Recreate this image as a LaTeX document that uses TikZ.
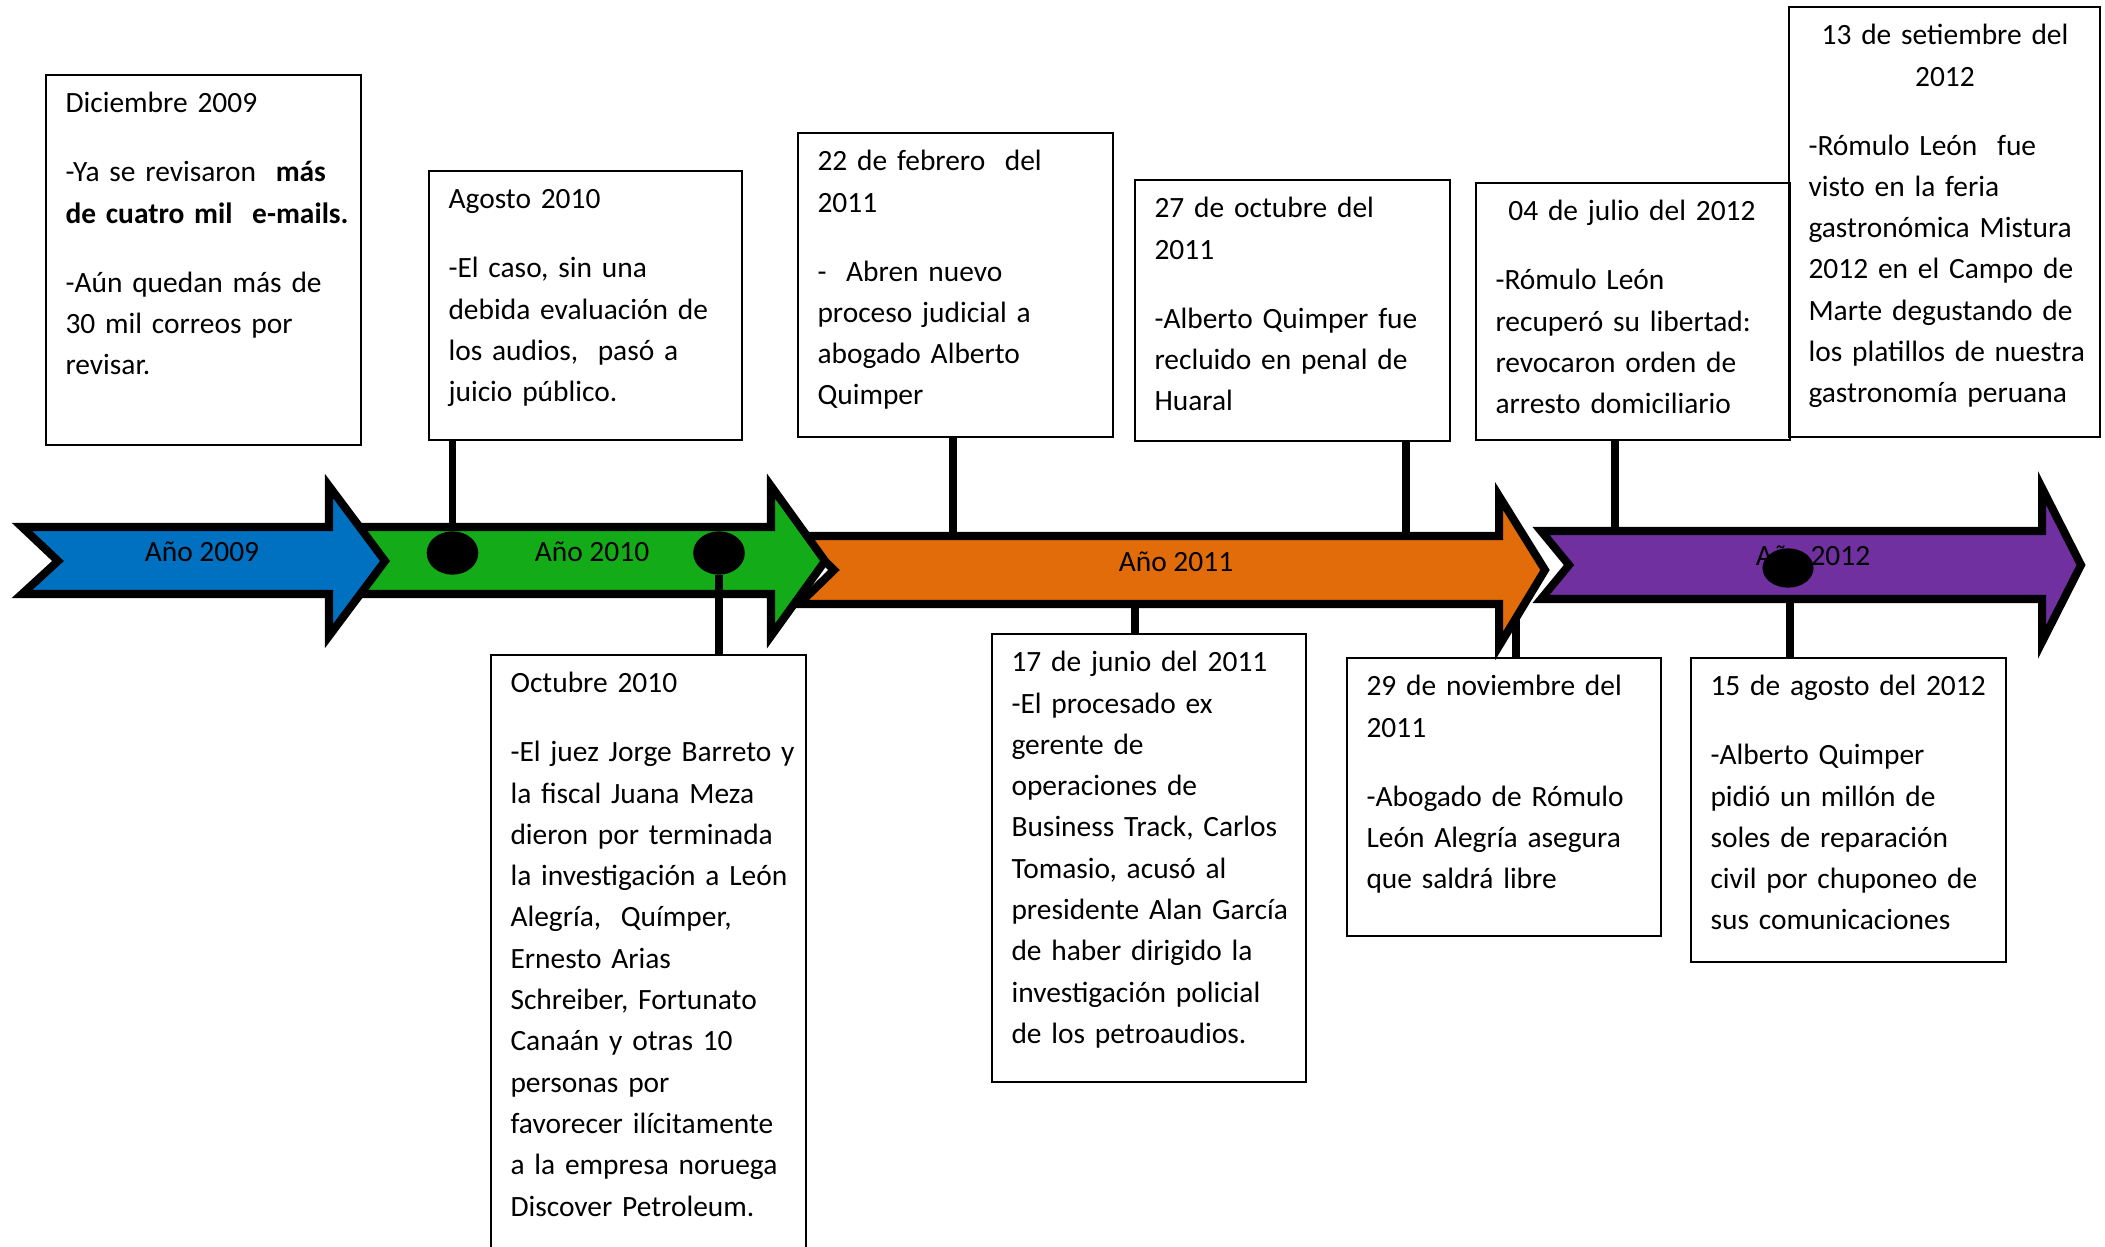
\documentclass[tikz,border=0pt]{standalone}
\usepackage{fontspec}
\setmainfont{Carlito}
\usepackage{tikz}
\usetikzlibrary{fit,shapes.geometric}
\definecolor{azul}{HTML}{0070C0}
\definecolor{verde}{HTML}{13AB17}
\definecolor{naranja}{HTML}{E36C0A}
\definecolor{morado}{HTML}{7030A0}

\begin{document}
\begin{tikzpicture}
[x=0.01314cm,y=-0.01314cm,font=\fontsize{11}{15.44}\selectfont,
 flecha/.style={draw=black,line width=3pt},
 caja/.style={draw=black,line width=0.8pt,inner sep=0pt},
 texto/.style={anchor=north west,align=left,text width=112pt,inner xsep=7.5pt,inner ysep=3.8pt,text height=10.5pt},
 punto/.style={ellipse,fill=black,inner sep=0pt,minimum width=19.3pt,minimum height=16.2pt},
 conector/.style={line width=2.8pt},
 anio/.style={inner sep=0pt}]
\useasboundingbox[fill=white] (0,0) rectangle (2105,1247);

\node[caja,fit={(46,75)(361,445)}] (dic09) {};
\node[texto] (dic09t) at (dic09.north west) {Diciembre 2009\\[10.35pt]
-Ya se revisaron\ \ \textbf{más}\\
\textbf{de cuatro mil\ \ e-mails.}\\[10.35pt]
-Aún quedan más de\\30 mil correos por\\revisar.};

\node[caja,fit={(429,171)(742,440)}] (ago10) {};
\node[texto] (ago10t) at (ago10.north west) {Agosto 2010\\[10.35pt]
-El caso, sin una\\debida evaluación de\\los audios,\ \ pasó a\\juicio público.};

\node[caja,fit={(798,133)(1113,437)}] (feb11) {};
\node[texto] (feb11t) at (feb11.north west) {22 de febrero\ \ del\\2011\\[10.35pt]
-\ \ Abren nuevo\\proceso judicial a\\abogado Alberto\\Quimper};

\node[caja,fit={(1135,180)(1450,441)}] (oct11) {};
\node[texto] (oct11t) at (oct11.north west) {27 de octubre del\\2011\\[10.35pt]
-Alberto Quimper fue\\recluido en penal de\\Huaral};

\node[caja,fit={(1476,183)(1790,440)}] (jul12) {};
\node[texto] (jul12t) at (jul12.north west) {\makebox[102pt]{04 de julio del 2012}\\[10.35pt]
-Rómulo León\\recuperó su libertad:\\revocaron orden de\\arresto domiciliario};

\node[caja,fit={(1789,7)(2100,437)}] (set12) {};
\node[texto] (set12t) at (set12.north west) {\makebox[102pt]{13 de setiembre del}\\\makebox[102pt]{2012}\\[10.35pt]
-Rómulo León\ \ fue\\visto en la feria\\gastronómica Mistura\\2012 en el Campo de\\Marte degustando de\\los platillos de nuestra\\gastronomía peruana};

\node[caja,fit={(491,655)(806,1262)}] (oct10) {};
\node[texto] (oct10t) at (oct10.north west) {Octubre 2010\\[10.35pt]
-El juez Jorge Barreto y\\la fiscal Juana Meza\\dieron por terminada\\la investigación a León\\Alegría,\ \ Químper,\\Ernesto Arias\\Schreiber, Fortunato\\Canaán y otras 10\\personas por\\favorecer ilícitamente\\a la empresa noruega\\Discover Petroleum.};

\node[caja,fit={(992,634)(1306,1082)}] (jun11) {};
\node[texto] (jun11t) at (jun11.north west) {17 de junio del 2011\\
-El procesado ex\\gerente de\\operaciones de\\Business Track, Carlos\\Tomasio, acusó al\\presidente Alan García\\de haber dirigido la\\investigación policial\\de los petroaudios.};

\node[caja,fit={(1347,658)(1661,936)}] (nov11) {};
\node[texto] (nov11t) at (nov11.north west) {29 de noviembre del\\2011\\[10.35pt]
-Abogado de Rómulo\\León Alegría asegura\\que saldrá libre};

\node[caja,fit={(1691,658)(2006,962)}] (ago12) {};
\node[texto] (ago12t) at (ago12.north west) {15 de agosto del 2012\\[10.35pt]
-Alberto Quimper\\pidió un millón de\\soles de reparación\\civil por chuponeo de\\sus comunicaciones};

\coordinate (cnov) at (1516,600);
\draw[conector] (cnov) -- (cnov |- nov11.north);

\draw[flecha,fill=morado] (1541,531) -- (2042,531) -- (2042,488) -- (2081,565) -- (2042,642) -- (2042,599) -- (1541,599) -- (1569,565) -- cycle;
\draw[flecha,fill=naranja] (799,536) -- (1499,536) -- (1499,496) -- (1545,570) -- (1499,646) -- (1499,604) -- (799,604) -- (834,570) -- cycle;
\draw[flecha,fill=verde] (345,527) -- (771,527) -- (771,486) -- (825,561) -- (771,636) -- (771,594) -- (345,594) -- (383,561) -- cycle;
\draw[flecha,fill=azul] (22,527) -- (329,527) -- (329,486) -- (385,561) -- (329,636) -- (329,594) -- (22,594) -- (58,561) -- cycle;

\node[anio] (a2009) at (202,552) {Año 2009};
\node[anio] (a2010) at (592,552) {Año 2010};
\node[anio] (a2011) at (1176,562) {Año 2011};
\node[anio] (a2012) at (1813,556) {Año 2012};

\node[punto] (pago10) at (452.5,553) {};
\node[punto] (poct10) at (719,553) {};
\node[punto,minimum width=19.1pt,minimum height=14.7pt] (pago12) at (1788,568) {};

\draw[conector] (ago10.south -| pago10.north) -- (pago10.north);
\draw[conector] (poct10.south) -- (poct10.south |- oct10.north);
\coordinate (cfeb) at (953,532);
\draw[conector] (feb11.south -| cfeb) -- (cfeb);
\coordinate (cjun) at (1135,608);
\draw[conector] (cjun) -- (cjun |- jun11.north);
\coordinate (coct) at (1406,532);
\draw[conector] (oct11.south -| coct) -- (coct);
\coordinate (cjul) at (1615,527);
\draw[conector] (jul12.south -| cjul) -- (cjul);
\coordinate (cago) at (1790,603);
\draw[conector] (cago) -- (cago |- ago12.north);
\end{tikzpicture}
\end{document}
